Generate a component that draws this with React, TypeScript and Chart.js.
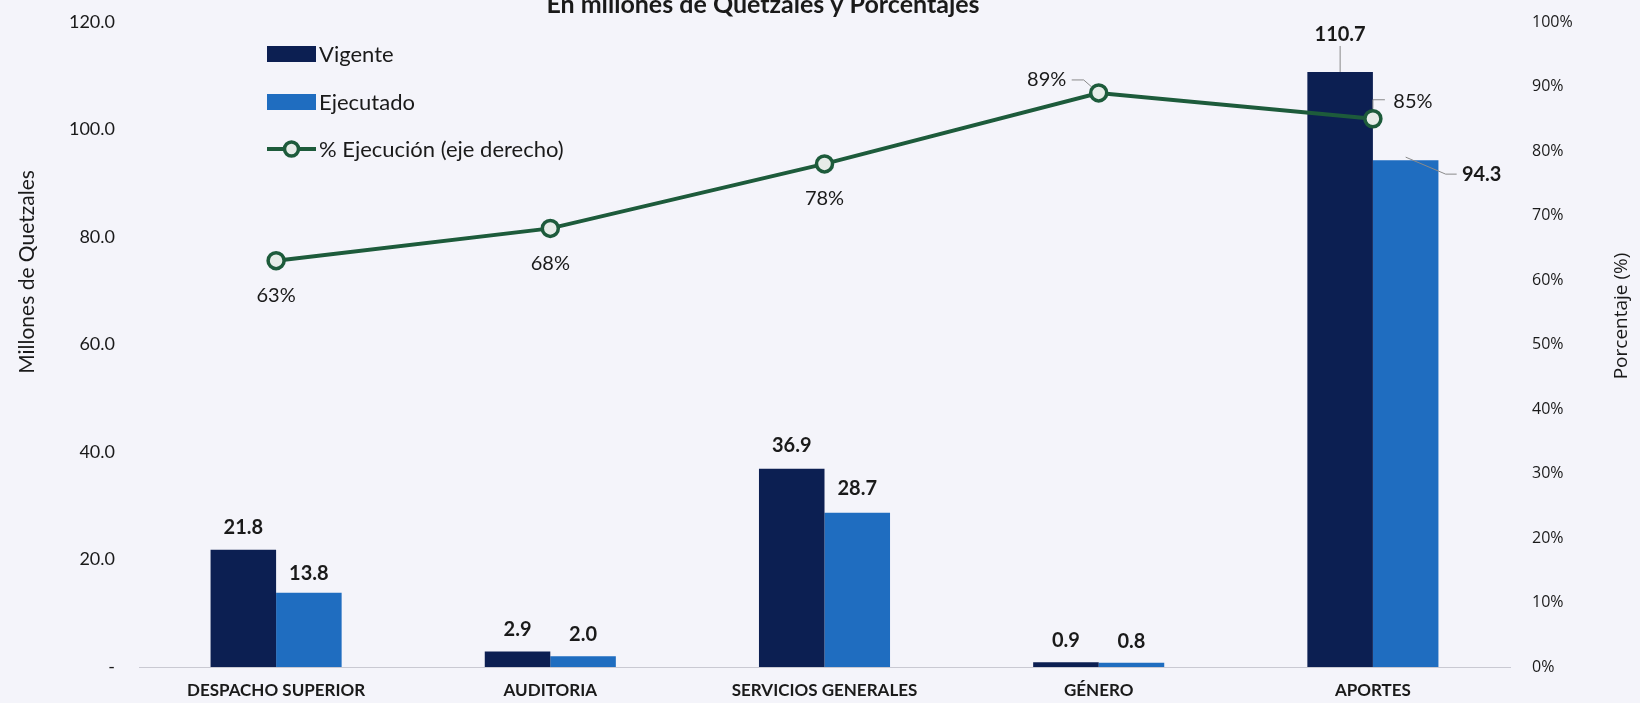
import React, { useEffect, useRef } from "react";
import { Chart, registerables } from "chart.js";

Chart.register(...registerables);

const categories = ["DESPACHO SUPERIOR", "AUDITORIA", "SERVICIOS GENERALES", "GÉNERO", "APORTES"];
const vigente = [21.8, 2.9, 36.9, 0.9, 110.7];
const ejecutado = [13.8, 2.0, 28.7, 0.8, 94.3];
const ejecucionPct = [63, 68, 78, 89, 85];
const leftTicks = [0, 20, 40, 60, 80, 100, 120];
const rightTicks = [0, 10, 20, 30, 40, 50, 60, 70, 80, 90, 100];

const TITLE = "En millones de Quetzales y Porcentajes";
const LEFT_TITLE = "Millones de Quetzales";
const RIGHT_TITLE = "Porcentaje (%)";
const LEGEND_LABELS = ["Vigente", "Ejecutado", "% Ejecución (eje derecho)"];

const FONT = 'Lato, "Open Sans", sans-serif';
const FONT2 = '"Open Sans", Lato, sans-serif';
const BG = "#f4f4fa";
const C_VIG = "#0c1f52";
const C_EJE = "#1f6dc0";
const C_LINE = "#1d5b3b";
const TXT = "#1a1a1a";

// label placement (pixel offsets relative to element), separate from data
type Place = { dx: number; dy: number; leader?: number[][] };
const vigPlace: Place[] = [
  { dx: 0, dy: -22 }, { dx: 0, dy: -22 }, { dx: 0, dy: -23 }, { dx: 0, dy: -22 },
  { dx: 0, dy: -37, leader: [[0, 0], [0, -26]] },
];
const ejePlace: Place[] = [
  { dx: 0, dy: -19 }, { dx: 0, dy: -22 }, { dx: 0, dy: -24 }, { dx: 0, dy: -21 },
  { dx: 76, dy: 14, leader: [[0, -3], [40, 14], [51, 14]] },
];
const pctPlace: Place[] = [
  { dx: 0, dy: 35 }, { dx: 0, dy: 35 }, { dx: 0, dy: 35 },
  { dx: -52, dy: -13, leader: [[-27, -13], [-15, -13], [-7, -6]] },
  { dx: 40, dy: -17, leader: [[0, -10], [0, -19], [12, -19]] },
];

const decorPlugin = {
  id: "decor",
  beforeDraw(chart: any) {
    const ctx = chart.ctx;
    ctx.save();
    ctx.fillStyle = BG;
    ctx.fillRect(0, 0, chart.width, chart.height);
    ctx.restore();
  },
  afterDatasetsDraw(chart: any) {
    const ctx = chart.ctx;
    ctx.save();
    // title (partially cut at top)
    ctx.fillStyle = TXT;
    ctx.font = `bold 25px ${FONT}`;
    ctx.textAlign = "center";
    ctx.textBaseline = "alphabetic";
    ctx.fillText(TITLE, 763, 13);

    // axis titles
    ctx.textBaseline = "middle";
    ctx.save();
    ctx.font = `21px ${FONT}`;
    ctx.translate(27, 272);
    ctx.rotate(-Math.PI / 2);
    ctx.fillText(LEFT_TITLE, 0, 0);
    ctx.restore();
    ctx.save();
    ctx.font = `19px ${FONT2}`;
    ctx.translate(1622, 316);
    ctx.rotate(-Math.PI / 2);
    ctx.fillText(RIGHT_TITLE, 0, 0);
    ctx.restore();

    // legend
    const lx = 267, lw = 49;
    const ly = [54, 102, 149];
    ctx.fillStyle = C_VIG;
    ctx.fillRect(lx, ly[0] - 8, lw, 16);
    ctx.fillStyle = C_EJE;
    ctx.fillRect(lx, ly[1] - 8, lw, 16);
    ctx.strokeStyle = C_LINE;
    ctx.lineWidth = 4;
    ctx.beginPath();
    ctx.moveTo(lx, ly[2]);
    ctx.lineTo(lx + lw, ly[2]);
    ctx.stroke();
    ctx.beginPath();
    ctx.arc(lx + lw / 2, ly[2], 7, 0, Math.PI * 2);
    ctx.fillStyle = "#e6ece8";
    ctx.fill();
    ctx.lineWidth = 3.5;
    ctx.stroke();
    ctx.fillStyle = TXT;
    ctx.font = `22px ${FONT}`;
    ctx.textAlign = "left";
    LEGEND_LABELS.forEach((t, i) => ctx.fillText(t, lx + lw + 3, ly[i] + 1));

    // data labels
    const drawLabels = (dsIndex: number, places: Place[], fmt: (v: number) => string, font: string) => {
      const meta = chart.getDatasetMeta(dsIndex);
      const data = chart.data.datasets[dsIndex].data as number[];
      meta.data.forEach((el: any, i: number) => {
        const p = places[i];
        const x = el.x, y = el.y;
        if (p.leader) {
          ctx.strokeStyle = "#8a8a8a";
          ctx.lineWidth = 1;
          ctx.beginPath();
          p.leader.forEach((pt, k) => {
            if (k === 0) ctx.moveTo(x + pt[0], y + pt[1]);
            else ctx.lineTo(x + pt[0], y + pt[1]);
          });
          ctx.stroke();
        }
        ctx.fillStyle = TXT;
        ctx.font = font;
        ctx.textAlign = "center";
        ctx.textBaseline = "middle";
        ctx.fillText(fmt(data[i]), x + p.dx, y + p.dy);
      });
    };
    drawLabels(1, vigPlace, (v) => v.toFixed(1), `bold 20px ${FONT}`);
    drawLabels(2, ejePlace, (v) => v.toFixed(1), `bold 20px ${FONT}`);
    drawLabels(0, pctPlace, (v) => `${v}%`, `20px ${FONT}`);
    ctx.restore();
  },
};

export default function App() {
  const ref = useRef<HTMLCanvasElement | null>(null);
  useEffect(() => {
    document.body.style.margin = "0";
    document.body.style.background = BG;
    const chart = new Chart(ref.current as HTMLCanvasElement, {
      type: "bar",
      data: {
        labels: categories,
        datasets: [
          {
            type: "line",
            label: LEGEND_LABELS[2],
            data: ejecucionPct,
            yAxisID: "y1",
            borderColor: C_LINE,
            borderWidth: 4,
            pointRadius: 8,
            pointBorderWidth: 3.5,
            pointBackgroundColor: "#e6ece8",
            pointBorderColor: C_LINE,
            tension: 0,
            order: 0,
          } as any,
          {
            type: "bar",
            label: LEGEND_LABELS[0],
            data: vigente,
            yAxisID: "y",
            backgroundColor: C_VIG,
            categoryPercentage: 0.478,
            barPercentage: 1,
            order: 1,
          },
          {
            type: "bar",
            label: LEGEND_LABELS[1],
            data: ejecutado,
            yAxisID: "y",
            backgroundColor: C_EJE,
            categoryPercentage: 0.478,
            barPercentage: 1,
            order: 1,
          },
        ],
      },
      options: {
        animation: false,
        responsive: false,
        maintainAspectRatio: false,
        layout: { padding: { top: 22, left: 0, right: 0, bottom: 0 } },
        plugins: { legend: { display: false }, tooltip: { enabled: false }, title: { display: false } },
        scales: {
          x: {
            grid: { display: false, drawTicks: false },
            border: { display: true, color: "#c9c9d2", width: 1 },
            ticks: { color: TXT, font: { family: FONT, size: 17, weight: "bold" }, padding: 13, maxRotation: 0 },
            afterFit: (s: any) => { s.height = 36; },
          },
          y: {
            position: "left",
            min: 0,
            max: 120,
            afterBuildTicks: (s: any) => { s.ticks = leftTicks.map((v) => ({ value: v })); },
            grid: { display: false, drawTicks: false },
            border: { display: false },
            ticks: {
              color: TXT,
              font: { family: FONT, size: 18 },
              padding: 24,
              callback: (v: any) => (Number(v) === 0 ? "-" : Number(v).toFixed(1)),
            },
            afterFit: (s: any) => { s.width = 139; s.paddingTop = 8; s.paddingBottom = 8; },
          },
          y1: {
            position: "right",
            min: 0,
            max: 100,
            afterBuildTicks: (s: any) => { s.ticks = rightTicks.map((v) => ({ value: v })); },
            grid: { display: false, drawTicks: false },
            border: { display: false },
            ticks: {
              color: TXT,
              font: { family: FONT2, size: 16 },
              padding: 22,
              callback: (v: any) => `${v}%`,
            },
            afterFit: (s: any) => { s.width = 130; s.paddingTop = 8; s.paddingBottom = 8; },
          },
        },
      },
      plugins: [decorPlugin],
    });
    return () => chart.destroy();
  }, []);
  return (
    <div style={{ position: "fixed", left: 0, top: 0, width: 1640, height: 703, background: BG }}>
      <canvas ref={ref} width={1640} height={703} style={{ width: 1640, height: 703, display: "block" }} />
    </div>
  );
}
